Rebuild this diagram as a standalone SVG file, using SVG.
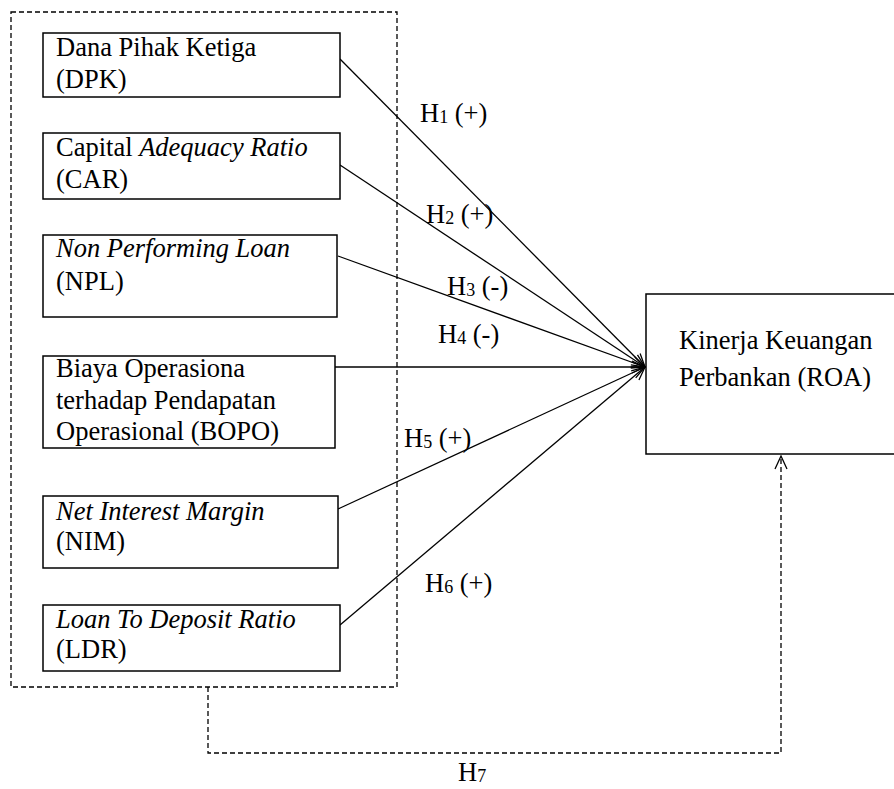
<svg xmlns="http://www.w3.org/2000/svg" width="894" height="789" viewBox="0 0 894 789">
<style>
text{font-family:"Liberation Serif","Times New Roman",serif;font-size:26.5px;fill:#000}
.it{font-style:italic}
.sub{font-size:18px}
.box{fill:#fff;stroke:#000;stroke-width:1.5}
.dash{fill:none;stroke:#000;stroke-width:1.3;stroke-dasharray:5,3}
.ln{fill:none;stroke:#000;stroke-width:1.3}
</style>
<defs>
<marker id="ah" markerWidth="16" markerHeight="14" refX="14" refY="7" orient="auto" markerUnits="userSpaceOnUse">
<path d="M1,1 L14,7 L1,13" fill="none" stroke="#000" stroke-width="1.3"/>
</marker>
</defs>
<rect width="894" height="789" fill="#fff"/>
<g id="group-box">
<rect class="dash" x="11" y="12" width="386" height="675"/>
</g>
<g id="connectors">
<line class="ln" x1="340" y1="59" x2="645" y2="367" marker-end="url(#ah)"/>
<line class="ln" x1="340" y1="165" x2="645" y2="367" marker-end="url(#ah)"/>
<line class="ln" x1="338" y1="256" x2="645" y2="367" marker-end="url(#ah)"/>
<line class="ln" x1="335" y1="367" x2="645" y2="367" marker-end="url(#ah)"/>
<line class="ln" x1="338" y1="509" x2="645" y2="367" marker-end="url(#ah)"/>
<line class="ln" x1="340" y1="625" x2="645" y2="367" marker-end="url(#ah)"/>
<path class="dash" d="M208,687 V753 H781 V456" marker-end="url(#ah)"/>
<text x="420" y="122">H<tspan class="sub" dy="1">1</tspan><tspan dy="-1"> (+)</tspan></text>
<text x="426" y="223">H<tspan class="sub" dy="1">2</tspan><tspan dy="-1"> (+)</tspan></text>
<text x="447" y="295">H<tspan class="sub" dy="1">3</tspan><tspan dy="-1"> (-)</tspan></text>
<text x="438" y="343">H<tspan class="sub" dy="1">4</tspan><tspan dy="-1"> (-)</tspan></text>
<text x="404" y="447">H<tspan class="sub" dy="1">5</tspan><tspan dy="-1"> (+)</tspan></text>
<text x="425" y="592">H<tspan class="sub" dy="1">6</tspan><tspan dy="-1"> (+)</tspan></text>
<text x="458" y="781">H<tspan class="sub" dy="1">7</tspan></text>
</g>
<g id="dpk">
<rect class="box" x="43" y="33" width="297" height="64"/>
<text x="56" y="56">Dana Pihak Ketiga</text>
<text x="56" y="88">(DPK)</text>
</g>
<g id="car">
<rect class="box" x="43" y="133" width="297" height="66"/>
<text x="56" y="156">Capital <tspan class="it">Adequacy Ratio</tspan></text>
<text x="56" y="188">(CAR)</text>
</g>
<g id="npl">
<rect class="box" x="43" y="235" width="294" height="82"/>
<text x="56" y="257" class="it">Non Performing Loan</text>
<text x="56" y="290">(NPL)</text>
</g>
<g id="bopo">
<rect class="box" x="43" y="356" width="292" height="92"/>
<text x="56" y="377">Biaya Operasiona</text>
<text x="56" y="409">terhadap Pendapatan</text>
<text x="56" y="440">Operasional (BOPO)</text>
</g>
<g id="nim">
<rect class="box" x="43" y="496" width="295" height="72"/>
<text x="56" y="520" class="it">Net Interest  Margin</text>
<text x="56" y="550">(NIM)</text>
</g>
<g id="ldr">
<rect class="box" x="43" y="605" width="297" height="66"/>
<text x="56" y="628" class="it">Loan To Deposit Ratio</text>
<text x="56" y="658">(LDR)</text>
</g>
<g id="roa">
<rect class="box" x="646" y="294" width="260" height="160"/>
<text x="679" y="349">Kinerja Keuangan</text>
<text x="679" y="386">Perbankan (ROA)</text>
</g>
</svg>
